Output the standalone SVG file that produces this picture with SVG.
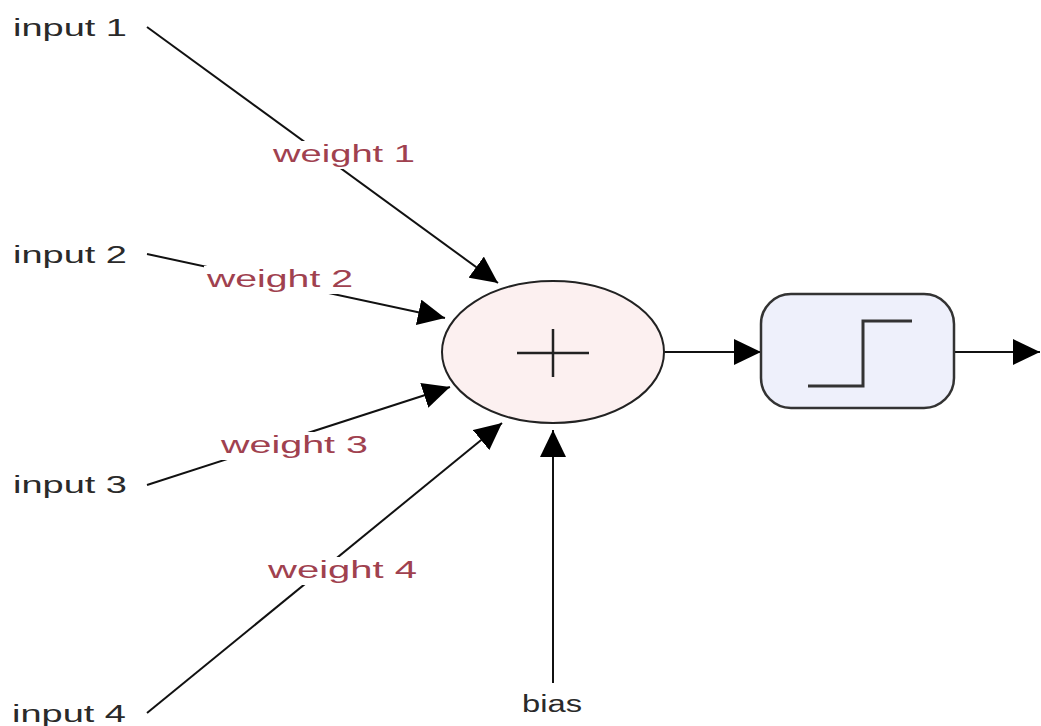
<svg xmlns="http://www.w3.org/2000/svg" width="1041" height="726" viewBox="0 0 1041 726">
<style>
.lbl{font-family:"Liberation Sans",Arial,sans-serif;font-size:23px;fill:#2a2a2a}
.w{font-family:"Liberation Sans",Arial,sans-serif;font-size:23px;fill:#a0414f}
.edge{stroke:#111;stroke-width:2;fill:none;marker-end:url(#ah)}
.bg{fill:#fff}
</style>
<defs>
<marker id="ah" markerUnits="userSpaceOnUse" markerWidth="28" markerHeight="26" refX="27" refY="13" orient="auto" viewBox="0 0 28 26">
<path d="M0,0 L27,13 L0,26 z" fill="#000"/>
</marker>
</defs>
<g id="connectors">
<line class="edge" x1="147" y1="27" x2="498" y2="283"/>
<line class="edge" x1="147" y1="254" x2="445" y2="318"/>
<line class="edge" x1="147" y1="485" x2="450" y2="387"/>
<line class="edge" x1="147" y1="713" x2="502" y2="423"/>
<line class="edge" x1="553" y1="683" x2="553" y2="430"/>
<line class="edge" x1="664" y1="352" x2="761" y2="352"/>
<line class="edge" x1="954" y1="352" x2="1040" y2="352"/>
</g>
<g id="weight1"><rect class="bg" x="270" y="141" width="148" height="28"/><text class="w" x="273" y="162" textLength="142" lengthAdjust="spacingAndGlyphs">weight 1</text></g>
<g id="weight2"><rect class="bg" x="204" y="266" width="152" height="28"/><text class="w" x="207" y="287" textLength="146" lengthAdjust="spacingAndGlyphs">weight 2</text></g>
<g id="weight3"><rect class="bg" x="218" y="432" width="152" height="28"/><text class="w" x="221" y="453" textLength="147" lengthAdjust="spacingAndGlyphs">weight 3</text></g>
<g id="weight4"><rect class="bg" x="265" y="557" width="155" height="28"/><text class="w" x="268" y="578" textLength="149" lengthAdjust="spacingAndGlyphs">weight 4</text></g>
<g id="input1"><text class="lbl" x="13" y="36" textLength="114" lengthAdjust="spacingAndGlyphs">input 1</text></g>
<g id="input2"><text class="lbl" x="13" y="263" textLength="114" lengthAdjust="spacingAndGlyphs">input 2</text></g>
<g id="input3"><text class="lbl" x="13" y="493" textLength="114" lengthAdjust="spacingAndGlyphs">input 3</text></g>
<g id="input4"><text class="lbl" x="12" y="722" textLength="114" lengthAdjust="spacingAndGlyphs">input 4</text></g>
<g id="bias"><text class="lbl" x="522" y="712" textLength="60" lengthAdjust="spacingAndGlyphs">bias</text></g>
<g id="sum">
<ellipse cx="553" cy="352" rx="111" ry="71" fill="#fcf0f0" stroke="#222" stroke-width="2"/>
<path d="M517,353 H589 M553,329 V377" stroke="#222" stroke-width="2.5" fill="none"/>
</g>
<g id="activation">
<rect x="761" y="294" width="193" height="114" rx="30" ry="30" fill="#eef0fb" stroke="#333" stroke-width="2.5"/>
<path d="M808,386 H863 V321 H912" stroke="#333" stroke-width="3" fill="none"/>
</g>
</svg>
